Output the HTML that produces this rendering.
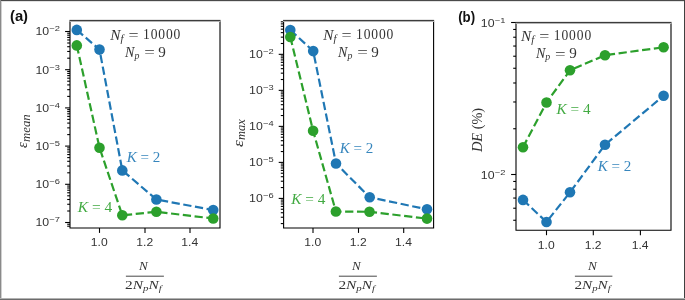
<!DOCTYPE html>
<html><head><meta charset="utf-8"><title>figure</title>
<style>html,body{margin:0;padding:0;background:#fff;overflow:hidden}svg{display:block;will-change:transform}</style>
</head><body>
<svg width="685" height="300" viewBox="0 0 685 300">
<rect x="0" y="0" width="685" height="300" fill="#fff"/>
<polyline points="76.80,29.90 99.50,49.60 122.30,170.40 156.40,199.50 213.20,210.10" fill="none" stroke="#1f77b4" stroke-width="2.2" stroke-dasharray="8.27 3.58" stroke-linecap="butt" stroke-linejoin="round"/>
<circle cx="76.80" cy="29.90" r="5.3" fill="#1f77b4"/><circle cx="99.50" cy="49.60" r="5.3" fill="#1f77b4"/><circle cx="122.30" cy="170.40" r="5.3" fill="#1f77b4"/><circle cx="156.40" cy="199.50" r="5.3" fill="#1f77b4"/><circle cx="213.20" cy="210.10" r="5.3" fill="#1f77b4"/>
<polyline points="76.80,45.40 99.50,147.70 122.30,215.30 156.40,211.80 213.20,218.50" fill="none" stroke="#2ca02c" stroke-width="2.2" stroke-dasharray="8.27 3.58" stroke-linecap="butt" stroke-linejoin="round"/>
<circle cx="76.80" cy="45.40" r="5.3" fill="#2ca02c"/><circle cx="99.50" cy="147.70" r="5.3" fill="#2ca02c"/><circle cx="122.30" cy="215.30" r="5.3" fill="#2ca02c"/><circle cx="156.40" cy="211.80" r="5.3" fill="#2ca02c"/><circle cx="213.20" cy="218.50" r="5.3" fill="#2ca02c"/>
<g stroke="#000" stroke-width="1.1" fill="none"><line x1="67.20" y1="226.20" x2="70.00" y2="226.20"/><line x1="67.20" y1="224.25" x2="70.00" y2="224.25"/><line x1="67.20" y1="211.00" x2="70.00" y2="211.00"/><line x1="67.20" y1="204.27" x2="70.00" y2="204.27"/><line x1="67.20" y1="199.50" x2="70.00" y2="199.50"/><line x1="67.20" y1="195.80" x2="70.00" y2="195.80"/><line x1="67.20" y1="192.77" x2="70.00" y2="192.77"/><line x1="67.20" y1="190.22" x2="70.00" y2="190.22"/><line x1="67.20" y1="188.00" x2="70.00" y2="188.00"/><line x1="67.20" y1="186.05" x2="70.00" y2="186.05"/><line x1="67.20" y1="172.80" x2="70.00" y2="172.80"/><line x1="67.20" y1="166.07" x2="70.00" y2="166.07"/><line x1="67.20" y1="161.30" x2="70.00" y2="161.30"/><line x1="67.20" y1="157.60" x2="70.00" y2="157.60"/><line x1="67.20" y1="154.57" x2="70.00" y2="154.57"/><line x1="67.20" y1="152.02" x2="70.00" y2="152.02"/><line x1="67.20" y1="149.80" x2="70.00" y2="149.80"/><line x1="67.20" y1="147.85" x2="70.00" y2="147.85"/><line x1="67.20" y1="134.60" x2="70.00" y2="134.60"/><line x1="67.20" y1="127.87" x2="70.00" y2="127.87"/><line x1="67.20" y1="123.10" x2="70.00" y2="123.10"/><line x1="67.20" y1="119.40" x2="70.00" y2="119.40"/><line x1="67.20" y1="116.37" x2="70.00" y2="116.37"/><line x1="67.20" y1="113.82" x2="70.00" y2="113.82"/><line x1="67.20" y1="111.60" x2="70.00" y2="111.60"/><line x1="67.20" y1="109.65" x2="70.00" y2="109.65"/><line x1="67.20" y1="96.40" x2="70.00" y2="96.40"/><line x1="67.20" y1="89.67" x2="70.00" y2="89.67"/><line x1="67.20" y1="84.90" x2="70.00" y2="84.90"/><line x1="67.20" y1="81.20" x2="70.00" y2="81.20"/><line x1="67.20" y1="78.17" x2="70.00" y2="78.17"/><line x1="67.20" y1="75.62" x2="70.00" y2="75.62"/><line x1="67.20" y1="73.40" x2="70.00" y2="73.40"/><line x1="67.20" y1="71.45" x2="70.00" y2="71.45"/><line x1="67.20" y1="58.20" x2="70.00" y2="58.20"/><line x1="67.20" y1="51.47" x2="70.00" y2="51.47"/><line x1="67.20" y1="46.70" x2="70.00" y2="46.70"/><line x1="67.20" y1="43.00" x2="70.00" y2="43.00"/><line x1="67.20" y1="39.97" x2="70.00" y2="39.97"/><line x1="67.20" y1="37.42" x2="70.00" y2="37.42"/><line x1="67.20" y1="35.20" x2="70.00" y2="35.20"/><line x1="67.20" y1="33.25" x2="70.00" y2="33.25"/><line x1="65.10" y1="31.50" x2="70.00" y2="31.50"/><line x1="65.10" y1="69.70" x2="70.00" y2="69.70"/><line x1="65.10" y1="107.90" x2="70.00" y2="107.90"/><line x1="65.10" y1="146.10" x2="70.00" y2="146.10"/><line x1="65.10" y1="184.30" x2="70.00" y2="184.30"/><line x1="65.10" y1="222.50" x2="70.00" y2="222.50"/><line x1="99.50" y1="228.00" x2="99.50" y2="232.90"/><line x1="145.00" y1="228.00" x2="145.00" y2="232.90"/><line x1="190.00" y1="228.00" x2="190.00" y2="232.90"/><path d="M70.00,21.00 V228.00 H220.00 V21.00"/></g>
<rect x="69.45" y="19.00" width="151.10" height="1" fill="#e6e6e6"/>
<rect x="69.45" y="21.00" width="151.10" height="1" fill="#b4b4b4"/>
<rect x="69.45" y="20.00" width="151.10" height="1" fill="#3c3c3c"/>
<text id="t_tb" transform="translate(35.39,35.38) scale(1.1735,1)" font-family='"Liberation Sans", sans-serif' font-size="10.5" fill="#333">10</text><text id="t_ts" transform="translate(49.29,31.34) scale(1.2627,1)" font-family='"Liberation Sans", sans-serif' font-size="7.4" fill="#333">−2</text><text transform="translate(35.39,73.58) scale(1.1735,1)" font-family='"Liberation Sans", sans-serif' font-size="10.5" fill="#333">10</text><text transform="translate(49.29,69.54) scale(1.2627,1)" font-family='"Liberation Sans", sans-serif' font-size="7.4" fill="#333">−3</text><text transform="translate(35.39,111.78) scale(1.1735,1)" font-family='"Liberation Sans", sans-serif' font-size="10.5" fill="#333">10</text><text transform="translate(49.29,107.74) scale(1.2627,1)" font-family='"Liberation Sans", sans-serif' font-size="7.4" fill="#333">−4</text><text transform="translate(35.39,149.98) scale(1.1735,1)" font-family='"Liberation Sans", sans-serif' font-size="10.5" fill="#333">10</text><text transform="translate(49.29,145.94) scale(1.2627,1)" font-family='"Liberation Sans", sans-serif' font-size="7.4" fill="#333">−5</text><text transform="translate(35.39,188.18) scale(1.1735,1)" font-family='"Liberation Sans", sans-serif' font-size="10.5" fill="#333">10</text><text transform="translate(49.29,184.14) scale(1.2627,1)" font-family='"Liberation Sans", sans-serif' font-size="7.4" fill="#333">−6</text><text transform="translate(35.39,226.38) scale(1.1735,1)" font-family='"Liberation Sans", sans-serif' font-size="10.5" fill="#333">10</text><text transform="translate(49.29,222.34) scale(1.2627,1)" font-family='"Liberation Sans", sans-serif' font-size="7.4" fill="#333">−7</text><text id="t_tx" transform="translate(90.85,246.10) scale(1.1538,1)" font-family='"Liberation Sans", sans-serif' font-size="10.5" fill="#333">1.0</text><text transform="translate(136.35,246.10) scale(1.1538,1)" font-family='"Liberation Sans", sans-serif' font-size="10.5" fill="#333">1.2</text><text transform="translate(181.35,246.10) scale(1.1538,1)" font-family='"Liberation Sans", sans-serif' font-size="10.5" fill="#333">1.4</text>
<polyline points="290.30,30.00 313.20,51.10 336.00,163.50 369.70,197.30 427.00,209.30" fill="none" stroke="#1f77b4" stroke-width="2.2" stroke-dasharray="8.27 3.58" stroke-linecap="butt" stroke-linejoin="round"/>
<circle cx="290.30" cy="30.00" r="5.3" fill="#1f77b4"/><circle cx="313.20" cy="51.10" r="5.3" fill="#1f77b4"/><circle cx="336.00" cy="163.50" r="5.3" fill="#1f77b4"/><circle cx="369.70" cy="197.30" r="5.3" fill="#1f77b4"/><circle cx="427.00" cy="209.30" r="5.3" fill="#1f77b4"/>
<polyline points="290.30,37.00 313.10,130.80 335.90,211.50 369.50,211.80 427.00,218.60" fill="none" stroke="#2ca02c" stroke-width="2.2" stroke-dasharray="8.27 3.58" stroke-linecap="butt" stroke-linejoin="round"/>
<circle cx="290.30" cy="37.00" r="5.3" fill="#2ca02c"/><circle cx="313.10" cy="130.80" r="5.3" fill="#2ca02c"/><circle cx="335.90" cy="211.50" r="5.3" fill="#2ca02c"/><circle cx="369.50" cy="211.80" r="5.3" fill="#2ca02c"/><circle cx="427.00" cy="218.60" r="5.3" fill="#2ca02c"/>
<g stroke="#000" stroke-width="1.1" fill="none"><line x1="280.80" y1="223.59" x2="283.60" y2="223.59"/><line x1="280.80" y1="217.24" x2="283.60" y2="217.24"/><line x1="280.80" y1="212.74" x2="283.60" y2="212.74"/><line x1="280.80" y1="209.25" x2="283.60" y2="209.25"/><line x1="280.80" y1="206.40" x2="283.60" y2="206.40"/><line x1="280.80" y1="203.99" x2="283.60" y2="203.99"/><line x1="280.80" y1="201.90" x2="283.60" y2="201.90"/><line x1="280.80" y1="200.06" x2="283.60" y2="200.06"/><line x1="280.80" y1="187.57" x2="283.60" y2="187.57"/><line x1="280.80" y1="181.22" x2="283.60" y2="181.22"/><line x1="280.80" y1="176.72" x2="283.60" y2="176.72"/><line x1="280.80" y1="173.23" x2="283.60" y2="173.23"/><line x1="280.80" y1="170.38" x2="283.60" y2="170.38"/><line x1="280.80" y1="167.97" x2="283.60" y2="167.97"/><line x1="280.80" y1="165.88" x2="283.60" y2="165.88"/><line x1="280.80" y1="164.04" x2="283.60" y2="164.04"/><line x1="280.80" y1="151.55" x2="283.60" y2="151.55"/><line x1="280.80" y1="145.20" x2="283.60" y2="145.20"/><line x1="280.80" y1="140.70" x2="283.60" y2="140.70"/><line x1="280.80" y1="137.21" x2="283.60" y2="137.21"/><line x1="280.80" y1="134.36" x2="283.60" y2="134.36"/><line x1="280.80" y1="131.95" x2="283.60" y2="131.95"/><line x1="280.80" y1="129.86" x2="283.60" y2="129.86"/><line x1="280.80" y1="128.02" x2="283.60" y2="128.02"/><line x1="280.80" y1="115.53" x2="283.60" y2="115.53"/><line x1="280.80" y1="109.18" x2="283.60" y2="109.18"/><line x1="280.80" y1="104.68" x2="283.60" y2="104.68"/><line x1="280.80" y1="101.19" x2="283.60" y2="101.19"/><line x1="280.80" y1="98.34" x2="283.60" y2="98.34"/><line x1="280.80" y1="95.93" x2="283.60" y2="95.93"/><line x1="280.80" y1="93.84" x2="283.60" y2="93.84"/><line x1="280.80" y1="92.00" x2="283.60" y2="92.00"/><line x1="280.80" y1="79.51" x2="283.60" y2="79.51"/><line x1="280.80" y1="73.16" x2="283.60" y2="73.16"/><line x1="280.80" y1="68.66" x2="283.60" y2="68.66"/><line x1="280.80" y1="65.17" x2="283.60" y2="65.17"/><line x1="280.80" y1="62.32" x2="283.60" y2="62.32"/><line x1="280.80" y1="59.91" x2="283.60" y2="59.91"/><line x1="280.80" y1="57.82" x2="283.60" y2="57.82"/><line x1="280.80" y1="55.98" x2="283.60" y2="55.98"/><line x1="280.80" y1="43.49" x2="283.60" y2="43.49"/><line x1="280.80" y1="37.14" x2="283.60" y2="37.14"/><line x1="280.80" y1="32.64" x2="283.60" y2="32.64"/><line x1="280.80" y1="29.15" x2="283.60" y2="29.15"/><line x1="280.80" y1="26.30" x2="283.60" y2="26.30"/><line x1="280.80" y1="23.89" x2="283.60" y2="23.89"/><line x1="280.80" y1="21.80" x2="283.60" y2="21.80"/><line x1="278.70" y1="54.33" x2="283.60" y2="54.33"/><line x1="278.70" y1="90.35" x2="283.60" y2="90.35"/><line x1="278.70" y1="126.37" x2="283.60" y2="126.37"/><line x1="278.70" y1="162.39" x2="283.60" y2="162.39"/><line x1="278.70" y1="198.41" x2="283.60" y2="198.41"/><line x1="313.00" y1="228.00" x2="313.00" y2="232.90"/><line x1="358.50" y1="228.00" x2="358.50" y2="232.90"/><line x1="403.70" y1="228.00" x2="403.70" y2="232.90"/><path d="M283.60,21.00 V228.00 H433.60 V21.00"/></g>
<rect x="283.05" y="19.00" width="151.10" height="1" fill="#e6e6e6"/>
<rect x="283.05" y="21.00" width="151.10" height="1" fill="#b4b4b4"/>
<rect x="283.05" y="20.00" width="151.10" height="1" fill="#3c3c3c"/>
<text transform="translate(249.09,58.21) scale(1.1735,1)" font-family='"Liberation Sans", sans-serif' font-size="10.5" fill="#333">10</text><text transform="translate(262.99,54.17) scale(1.2627,1)" font-family='"Liberation Sans", sans-serif' font-size="7.4" fill="#333">−2</text><text transform="translate(249.09,94.23) scale(1.1735,1)" font-family='"Liberation Sans", sans-serif' font-size="10.5" fill="#333">10</text><text transform="translate(262.99,90.19) scale(1.2627,1)" font-family='"Liberation Sans", sans-serif' font-size="7.4" fill="#333">−3</text><text transform="translate(249.09,130.25) scale(1.1735,1)" font-family='"Liberation Sans", sans-serif' font-size="10.5" fill="#333">10</text><text transform="translate(262.99,126.21) scale(1.2627,1)" font-family='"Liberation Sans", sans-serif' font-size="7.4" fill="#333">−4</text><text transform="translate(249.09,166.27) scale(1.1735,1)" font-family='"Liberation Sans", sans-serif' font-size="10.5" fill="#333">10</text><text transform="translate(262.99,162.23) scale(1.2627,1)" font-family='"Liberation Sans", sans-serif' font-size="7.4" fill="#333">−5</text><text transform="translate(249.09,202.29) scale(1.1735,1)" font-family='"Liberation Sans", sans-serif' font-size="10.5" fill="#333">10</text><text transform="translate(262.99,198.25) scale(1.2627,1)" font-family='"Liberation Sans", sans-serif' font-size="7.4" fill="#333">−6</text><text transform="translate(304.35,246.10) scale(1.1538,1)" font-family='"Liberation Sans", sans-serif' font-size="10.5" fill="#333">1.0</text><text transform="translate(349.85,246.10) scale(1.1538,1)" font-family='"Liberation Sans", sans-serif' font-size="10.5" fill="#333">1.2</text><text transform="translate(395.05,246.10) scale(1.1538,1)" font-family='"Liberation Sans", sans-serif' font-size="10.5" fill="#333">1.4</text>
<polyline points="523.00,199.90 546.50,222.00 570.00,192.30 605.00,144.80 663.60,95.80" fill="none" stroke="#1f77b4" stroke-width="2.2" stroke-dasharray="8.27 3.58" stroke-linecap="butt" stroke-linejoin="round"/>
<circle cx="523.00" cy="199.90" r="5.3" fill="#1f77b4"/><circle cx="546.50" cy="222.00" r="5.3" fill="#1f77b4"/><circle cx="570.00" cy="192.30" r="5.3" fill="#1f77b4"/><circle cx="605.00" cy="144.80" r="5.3" fill="#1f77b4"/><circle cx="663.60" cy="95.80" r="5.3" fill="#1f77b4"/>
<polyline points="523.00,147.20 546.50,102.50 570.00,70.30 605.00,55.20 663.60,47.30" fill="none" stroke="#2ca02c" stroke-width="2.2" stroke-dasharray="8.27 3.58" stroke-linecap="butt" stroke-linejoin="round"/>
<circle cx="523.00" cy="147.20" r="5.3" fill="#2ca02c"/><circle cx="546.50" cy="102.50" r="5.3" fill="#2ca02c"/><circle cx="570.00" cy="70.30" r="5.3" fill="#2ca02c"/><circle cx="605.00" cy="55.20" r="5.3" fill="#2ca02c"/><circle cx="663.60" cy="47.30" r="5.3" fill="#2ca02c"/>
<g stroke="#000" stroke-width="1.1" fill="none"><line x1="513.20" y1="220.26" x2="516.00" y2="220.26"/><line x1="513.20" y1="208.22" x2="516.00" y2="208.22"/><line x1="513.20" y1="198.05" x2="516.00" y2="198.05"/><line x1="513.20" y1="189.23" x2="516.00" y2="189.23"/><line x1="513.20" y1="181.46" x2="516.00" y2="181.46"/><line x1="513.20" y1="128.74" x2="516.00" y2="128.74"/><line x1="513.20" y1="101.98" x2="516.00" y2="101.98"/><line x1="513.20" y1="82.99" x2="516.00" y2="82.99"/><line x1="513.20" y1="68.26" x2="516.00" y2="68.26"/><line x1="513.20" y1="56.22" x2="516.00" y2="56.22"/><line x1="513.20" y1="46.05" x2="516.00" y2="46.05"/><line x1="513.20" y1="37.23" x2="516.00" y2="37.23"/><line x1="513.20" y1="29.46" x2="516.00" y2="29.46"/><line x1="511.10" y1="22.50" x2="516.00" y2="22.50"/><line x1="511.10" y1="174.50" x2="516.00" y2="174.50"/><line x1="546.50" y1="230.30" x2="546.50" y2="235.20"/><line x1="593.30" y1="230.30" x2="593.30" y2="235.20"/><line x1="640.40" y1="230.30" x2="640.40" y2="235.20"/><path d="M516.00,23.00 V230.30 H671.00 V23.00"/></g>
<rect x="515.45" y="21.00" width="156.10" height="1" fill="#e6e6e6"/>
<rect x="515.45" y="23.00" width="156.10" height="1" fill="#b4b4b4"/>
<rect x="515.45" y="22.00" width="156.10" height="1" fill="#3c3c3c"/>
<text transform="translate(480.79,27.08) scale(1.1735,1)" font-family='"Liberation Sans", sans-serif' font-size="10.5" fill="#333">10</text><text transform="translate(494.69,23.04) scale(1.2627,1)" font-family='"Liberation Sans", sans-serif' font-size="7.4" fill="#333">−1</text><text transform="translate(480.79,179.08) scale(1.1735,1)" font-family='"Liberation Sans", sans-serif' font-size="10.5" fill="#333">10</text><text transform="translate(494.69,175.04) scale(1.2627,1)" font-family='"Liberation Sans", sans-serif' font-size="7.4" fill="#333">−2</text><text transform="translate(537.85,248.90) scale(1.1538,1)" font-family='"Liberation Sans", sans-serif' font-size="10.5" fill="#333">1.0</text><text transform="translate(584.65,248.90) scale(1.1538,1)" font-family='"Liberation Sans", sans-serif' font-size="10.5" fill="#333">1.2</text><text transform="translate(631.75,248.90) scale(1.1538,1)" font-family='"Liberation Sans", sans-serif' font-size="10.5" fill="#333">1.4</text>
<text id="t_a1N" transform="translate(110.26,39.70) scale(1.0941,1)" font-family='"Liberation Serif", serif' font-size="14.0" fill="#333"><tspan font-style="italic">N</tspan><tspan font-style="italic" font-size="9.80" dy="2.4">f</tspan></text>
<text id="t_a1E" transform="translate(128.48,40.14) scale(1.2749,1)" font-family='"Liberation Serif", serif' font-size="14.0" fill="#333">=</text>
<text id="t_a1V" transform="translate(143.03,38.92) scale(0.9681,1)" font-family='"Liberation Serif", serif' font-size="14.0" letter-spacing="0.9" fill="#333">10000</text>
<text id="t_a2N" transform="translate(125.09,56.52) scale(1.0057,1)" font-family='"Liberation Serif", serif' font-size="14.0" fill="#333"><tspan font-style="italic">N</tspan><tspan font-style="italic" font-size="9.80" dy="2.4">p</tspan></text>
<text id="t_a2E" transform="translate(144.21,57.48) scale(1.3428,1)" font-family='"Liberation Serif", serif' font-size="14.0" fill="#333">=</text>
<text id="t_a2V" transform="translate(158.36,56.52) scale(1.0824,1)" font-family='"Liberation Serif", serif' font-size="14.0" fill="#333">9</text>
<text id="t_A_K2" transform="translate(126.71,161.76) scale(1.0952,1)" font-family='"Liberation Serif", serif' font-size="13.8" fill="#3786bd"><tspan font-style="italic">K</tspan> = 2</text>
<text id="t_A_K4" transform="translate(77.76,211.92) scale(1.1215,1)" font-family='"Liberation Serif", serif' font-size="13.8" fill="#42aa42"><tspan font-style="italic">K</tspan> = 4</text>
<text id="t_B_K2" transform="translate(339.71,153.14) scale(1.0952,1)" font-family='"Liberation Serif", serif' font-size="13.8" fill="#3786bd"><tspan font-style="italic">K</tspan> = 2</text>
<text id="t_B_K4" transform="translate(291.27,203.96) scale(1.1063,1)" font-family='"Liberation Serif", serif' font-size="13.8" fill="#42aa42"><tspan font-style="italic">K</tspan> = 4</text>
<text id="t_C_K4" transform="translate(556.61,113.92) scale(1.1075,1)" font-family='"Liberation Serif", serif' font-size="13.8" fill="#42aa42"><tspan font-style="italic">K</tspan> = 4</text>
<text id="t_C_K2" transform="translate(597.71,170.52) scale(1.0952,1)" font-family='"Liberation Serif", serif' font-size="13.8" fill="#3786bd"><tspan font-style="italic">K</tspan> = 2</text>
<text id="t_A_fN" transform="translate(138.92,269.82) scale(0.9958,1)" font-family='"Liberation Serif", serif' font-size="13.2" fill="#333"><tspan font-style="italic">N</tspan></text>
<text id="t_A_fD" transform="translate(125.08,288.60) scale(1.1650,1)" font-family='"Liberation Serif", serif' font-size="13.2" fill="#333">2<tspan font-style="italic">N</tspan><tspan font-style="italic" font-size="9.24" dy="2.0">p</tspan><tspan font-style="italic" dy="-2.0">N</tspan><tspan font-style="italic" font-size="9.24" dy="2.0">f</tspan></text>
<text id="t_B_fN" transform="translate(352.06,270.42) scale(0.9872,1)" font-family='"Liberation Serif", serif' font-size="13.2" fill="#333"><tspan font-style="italic">N</tspan></text>
<text id="t_B_fD" transform="translate(338.38,288.60) scale(1.1650,1)" font-family='"Liberation Serif", serif' font-size="13.2" fill="#333">2<tspan font-style="italic">N</tspan><tspan font-style="italic" font-size="9.24" dy="2.0">p</tspan><tspan font-style="italic" dy="-2.0">N</tspan><tspan font-style="italic" font-size="9.24" dy="2.0">f</tspan></text>
<text id="t_C_fN" transform="translate(587.98,269.82) scale(0.9995,1)" font-family='"Liberation Serif", serif' font-size="13.2" fill="#333"><tspan font-style="italic">N</tspan></text>
<text id="t_C_fD" transform="translate(574.38,288.60) scale(1.1550,1)" font-family='"Liberation Serif", serif' font-size="13.2" fill="#333">2<tspan font-style="italic">N</tspan><tspan font-style="italic" font-size="9.24" dy="2.0">p</tspan><tspan font-style="italic" dy="-2.0">N</tspan><tspan font-style="italic" font-size="9.24" dy="2.0">f</tspan></text>
<text id="t_A_ye" transform="translate(26.50,148.00) rotate(-90) scale(1.0201,1)" font-family='"Liberation Serif", serif' font-size="14.5" fill="#333"><tspan font-style="italic">ε</tspan></text>
<text id="t_A_ys" transform="translate(29.52,141.88) rotate(-90) scale(1.1091,1)" font-family='"Liberation Serif", serif' font-size="11.5" fill="#333"><tspan font-style="italic">mean</tspan></text>
<text id="t_B_ye" transform="translate(242.70,147.06) rotate(-90) scale(1.1937,1)" font-family='"Liberation Serif", serif' font-size="14.5" fill="#333"><tspan font-style="italic">ε</tspan></text>
<text id="t_B_ys" transform="translate(244.58,140.00) rotate(-90) scale(1.0863,1)" font-family='"Liberation Serif", serif' font-size="11.5" fill="#333"><tspan font-style="italic">max</tspan></text>
<text id="t_C_yl" transform="translate(482.40,152.00) rotate(-90) scale(1.0233,1)" font-family='"Liberation Serif", serif' font-size="14.0" fill="#333"><tspan font-style="italic">DE</tspan> (%)</text>
<text transform="translate(323.26,39.70) scale(1.0941,1)" font-family='"Liberation Serif", serif' font-size="14.0" fill="#333"><tspan font-style="italic">N</tspan><tspan font-style="italic" font-size="9.80" dy="2.4">f</tspan></text>
<text transform="translate(521.06,41.00) scale(1.0941,1)" font-family='"Liberation Serif", serif' font-size="14.0" fill="#333"><tspan font-style="italic">N</tspan><tspan font-style="italic" font-size="9.80" dy="2.4">f</tspan></text>
<text transform="translate(341.48,40.14) scale(1.2749,1)" font-family='"Liberation Serif", serif' font-size="14.0" fill="#333">=</text>
<text transform="translate(539.28,41.44) scale(1.2749,1)" font-family='"Liberation Serif", serif' font-size="14.0" fill="#333">=</text>
<text transform="translate(356.03,38.92) scale(0.9681,1)" font-family='"Liberation Serif", serif' font-size="14.0" letter-spacing="0.9" fill="#333">10000</text>
<text transform="translate(553.83,40.22) scale(0.9681,1)" font-family='"Liberation Serif", serif' font-size="14.0" letter-spacing="0.9" fill="#333">10000</text>
<text transform="translate(338.09,56.52) scale(1.0057,1)" font-family='"Liberation Serif", serif' font-size="14.0" fill="#333"><tspan font-style="italic">N</tspan><tspan font-style="italic" font-size="9.80" dy="2.4">p</tspan></text>
<text transform="translate(535.89,57.82) scale(1.0057,1)" font-family='"Liberation Serif", serif' font-size="14.0" fill="#333"><tspan font-style="italic">N</tspan><tspan font-style="italic" font-size="9.80" dy="2.4">p</tspan></text>
<text transform="translate(357.21,57.48) scale(1.3428,1)" font-family='"Liberation Serif", serif' font-size="14.0" fill="#333">=</text>
<text transform="translate(555.01,58.78) scale(1.3428,1)" font-family='"Liberation Serif", serif' font-size="14.0" fill="#333">=</text>
<text transform="translate(371.36,56.52) scale(1.0824,1)" font-family='"Liberation Serif", serif' font-size="14.0" fill="#333">9</text>
<text transform="translate(569.16,57.82) scale(1.0824,1)" font-family='"Liberation Serif", serif' font-size="14.0" fill="#333">9</text>
<line x1="125.90" y1="276.2" x2="163.90" y2="276.2" stroke="#333" stroke-width="0.9"/>
<line x1="338.90" y1="276.2" x2="376.90" y2="276.2" stroke="#333" stroke-width="0.9"/>
<line x1="574.90" y1="276.2" x2="612.40" y2="276.2" stroke="#333" stroke-width="0.9"/>
<text id="t_(a)" transform="translate(9.95,21.14) scale(1.0223,1)" font-family='"Liberation Sans", sans-serif' font-weight="bold" font-size="14.5" fill="#111">(a)</text>
<text id="t_(b)" transform="translate(458.19,21.76) scale(0.9175,1)" font-family='"Liberation Sans", sans-serif' font-weight="bold" font-size="14.5" fill="#111">(b)</text>
<rect x="0" y="0" width="685" height="1" fill="#4a4a4a"/>
<rect x="0" y="0" width="1" height="300" fill="#8a8a8a"/>
<rect x="1" y="1" width="1" height="297" fill="#d0d0d0"/>
<rect x="684" y="0" width="1" height="300" fill="#404040"/>
<rect x="0" y="299" width="685" height="1" fill="#6c6c6c"/>
<rect x="0" y="298" width="685" height="1" fill="#b2b2b2"/>
<rect x="2" y="1" width="682" height="1" fill="#e2e2e2"/>
</svg>
</body></html>
